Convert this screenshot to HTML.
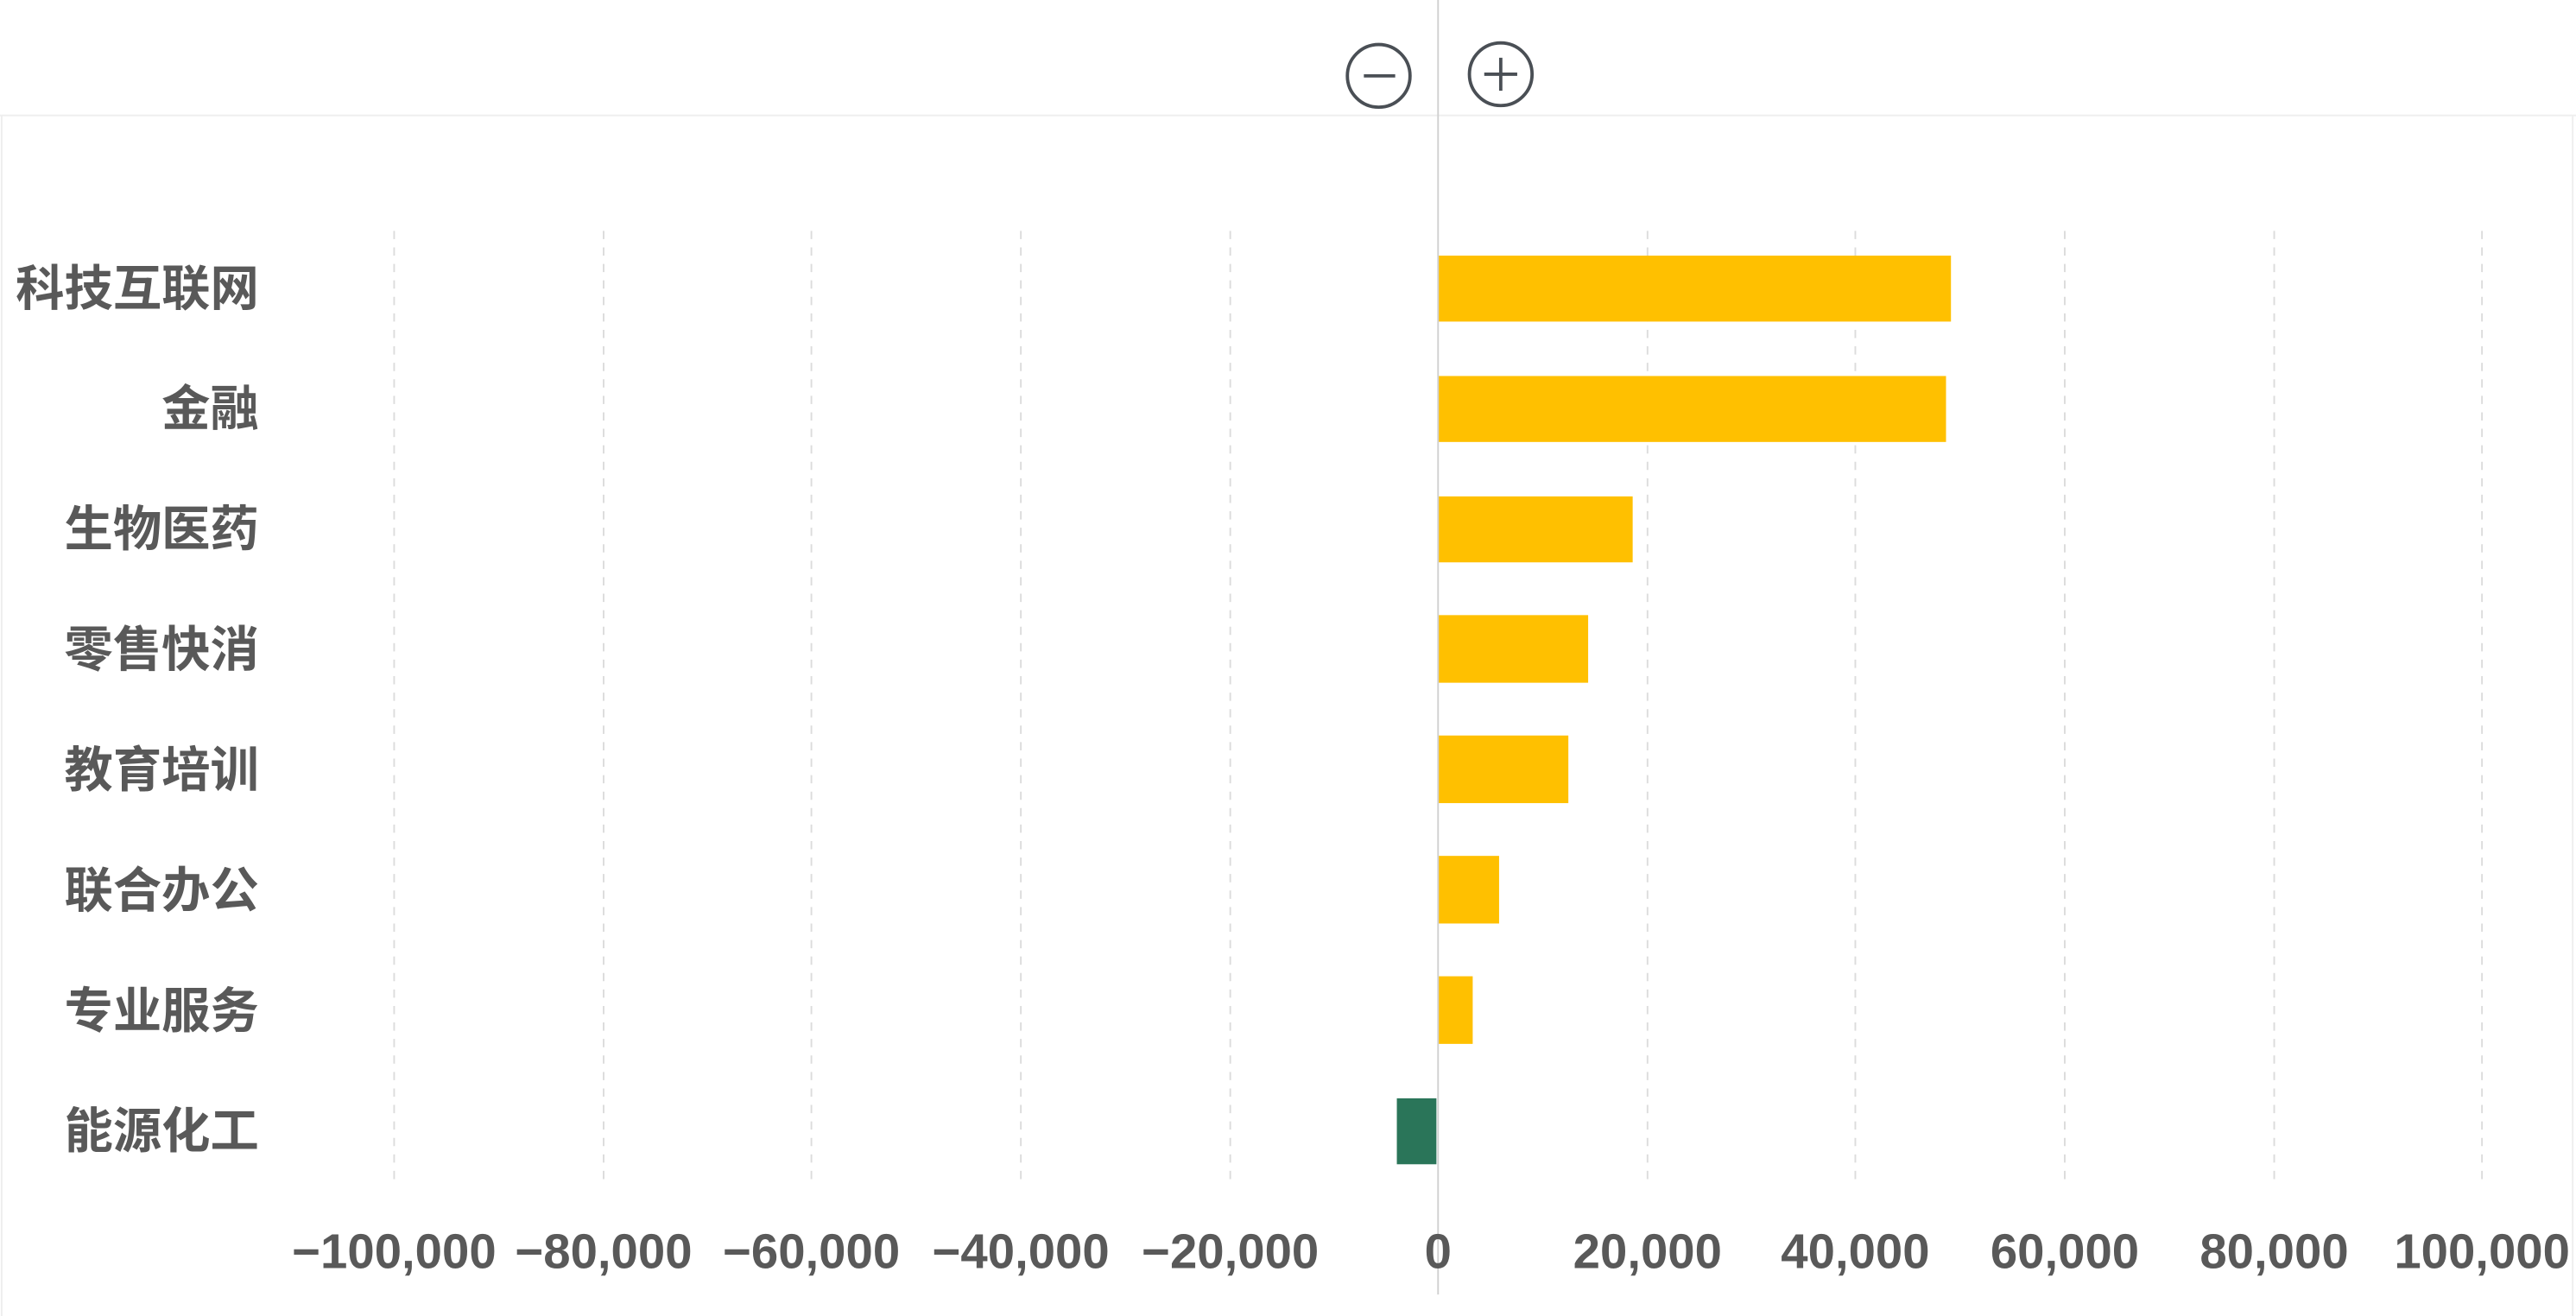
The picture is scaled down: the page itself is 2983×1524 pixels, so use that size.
<!DOCTYPE html>
<html><head><meta charset="utf-8"><style>
html,body{margin:0;padding:0;background:#fff;}
svg{display:block;}
text{font-family:"Liberation Sans","Noto Sans CJK SC",sans-serif;fill:#595959;}
</style></head><body>
<svg width="2983" height="1524" viewBox="0 0 1562 798" xmlns="http://www.w3.org/2000/svg">
<rect width="1562" height="798" fill="#fff"/>
<line x1="0" y1="70" x2="1562" y2="70" stroke="#eeeeee" stroke-width="1"/>
<line x1="1" y1="70" x2="1" y2="798" stroke="#eeeeee" stroke-width="1"/>
<line x1="1560" y1="70" x2="1560" y2="798" stroke="#eeeeee" stroke-width="1"/>
<g stroke="#dcdcdc" stroke-width="1" stroke-dasharray="5,5">
<line x1="239" y1="140" x2="239" y2="720"/>
<line x1="366" y1="140" x2="366" y2="720"/>
<line x1="492" y1="140" x2="492" y2="720"/>
<line x1="619" y1="140" x2="619" y2="720"/>
<line x1="746" y1="140" x2="746" y2="720"/>
<line x1="999" y1="140" x2="999" y2="720"/>
<line x1="1125" y1="140" x2="1125" y2="720"/>
<line x1="1252" y1="140" x2="1252" y2="720"/>
<line x1="1379" y1="140" x2="1379" y2="720"/>
<line x1="1505" y1="140" x2="1505" y2="720"/>
</g>
<g fill="#FFC000">
<rect x="872" y="155" width="311" height="40"/>
<rect x="872" y="228" width="308" height="40"/>
<rect x="872" y="301" width="118" height="40"/>
<rect x="872" y="373" width="91" height="41"/>
<rect x="872" y="446" width="79" height="41"/>
<rect x="872" y="519" width="37" height="41"/>
<rect x="872" y="592" width="21" height="41"/>
</g>
<rect x="847" y="666" width="24" height="40" fill="#2A7559"/>
<line x1="872" y1="0" x2="872" y2="785" stroke="#d0d0d0" stroke-width="1"/>
<g font-size="29.5" font-weight="bold" text-anchor="end">
<text x="157" y="185">科技互联网</text>
<text x="157" y="258">金融</text>
<text x="157" y="331">生物医药</text>
<text x="157" y="404">零售快消</text>
<text x="157" y="477">教育培训</text>
<text x="157" y="550">联合办公</text>
<text x="157" y="623">专业服务</text>
<text x="157" y="696">能源化工</text>
</g>
<g font-size="29.5" font-weight="bold" text-anchor="middle">
<text x="239" y="769">−100,000</text>
<text x="366" y="769">−80,000</text>
<text x="492" y="769">−60,000</text>
<text x="619" y="769">−40,000</text>
<text x="746" y="769">−20,000</text>
<text x="872" y="769">0</text>
<text x="999" y="769">20,000</text>
<text x="1125" y="769">40,000</text>
<text x="1252" y="769">60,000</text>
<text x="1379" y="769">80,000</text>
<text x="1505" y="769">100,000</text>
</g>
<g stroke="#4a4f55" stroke-width="2" fill="none">
<circle cx="836" cy="46" r="19"/>
<line x1="827" y1="46" x2="846" y2="46"/>
<circle cx="910" cy="45" r="19"/>
<line x1="900" y1="45" x2="920" y2="45"/>
<line x1="910" y1="35" x2="910" y2="55"/>
</g>
</svg>
</body></html>
